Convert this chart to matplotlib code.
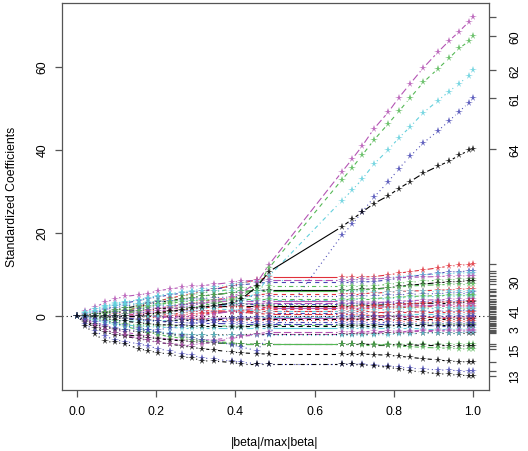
import matplotlib
matplotlib.use('Agg')
import matplotlib.pyplot as plt
from matplotlib.collections import LineCollection
import numpy as np

plt.rcParams['font.family'] = ['Liberation Sans', 'DejaVu Sans']
plt.rcParams['lines.scale_dashes'] = False

# lars breakpoints (|beta|/max|beta|)
steps = [0.0, 0.02, 0.045, 0.07, 0.095, 0.12, 0.155, 0.18, 0.205, 0.235, 0.265,
         0.29, 0.315, 0.345, 0.39, 0.415, 0.455, 0.485,
         0.669, 0.695, 0.72, 0.75, 0.787, 0.813, 0.842, 0.875, 0.912, 0.94, 0.965, 0.99, 1.0]

# the many small coefficients (one row per variable)
small_coef = [
    [0, 0, 0, 0, 0.3, 1.0, 2.0, 2.8, 3.5, 4.2, 4.8, 5.3, 5.8, 6.3, 7.2, 7.8, 8.6, 9.2,
     9.2, 9.3, 9.3, 9.4, 9.8, 10.2, 10.6, 11.0, 11.5, 11.9, 12.1, 12.3, 12.4],
    [0, 0, 0.5, 1.5, 2.3, 3.0, 3.6, 4.1, 4.5, 5.0, 5.4, 5.7, 6.0, 6.3, 7.0, 7.4, 7.8, 8.0,
     8.0, 8.0, 8.1, 8.2, 8.6, 9.0, 9.4, 9.8, 10.2, 10.5, 10.6, 10.7, 10.8],
    [0, 0.8, 1.6, 2.4, 3.0, 3.3, 3.8, 4.2, 4.8, 5.3, 5.7, 6.0, 6.4, 6.8, 7.5, 7.9, 8.3, 8.6,
     8.6, 8.6, 8.7, 8.8, 9.1, 9.4, 9.6, 9.8, 10.0, 10.1, 10.2, 10.3, 10.3],
    [0, 0, 0, 0.5, 1.2, 1.8, 2.5, 3.0, 3.6, 4.1, 4.6, 5.0, 5.4, 5.8, 6.3, 6.6, 6.8, 7.0,
     7.0, 7.1, 7.1, 7.2, 7.5, 7.8, 8.0, 8.3, 8.5, 8.6, 8.7, 8.8, 8.8],
    [0, 1.0, 2.0, 3.2, 4.0, 4.6, 5.0, 5.3, 6.0, 6.4, 6.8, 7.0, 7.2, 7.5, 8.0, 8.3, 8.5, 8.6,
     8.6, 8.6, 8.7, 8.8, 9.0, 9.1, 9.2, 9.3, 9.4, 9.5, 9.5, 9.6, 9.6],
    [0, 0, 0.3, 0.8, 1.3, 1.8, 2.3, 2.8, 3.2, 3.6, 4.0, 4.3, 4.7, 5.0, 5.5, 5.8, 6.0, 6.2,
     6.2, 6.2, 6.3, 6.4, 6.7, 7.0, 7.3, 7.6, 7.9, 8.1, 8.2, 8.4, 8.4],
    [0, 0, 0, 0, 0, 0, 0.4, 1.0, 1.6, 2.1, 2.6, 3.0, 3.4, 3.8, 4.3, 4.6, 5.0, 5.2,
     5.2, 5.3, 5.3, 5.4, 5.6, 5.8, 5.9, 6.0, 6.1, 6.2, 6.3, 6.4, 6.4],
    [0, 0.4, 0.9, 1.4, 1.9, 2.3, 2.7, 3.0, 3.3, 3.5, 3.7, 3.9, 4.1, 4.3, 4.5, 4.6, 4.6, 4.6,
     4.6, 4.6, 4.7, 4.8, 4.9, 5.0, 5.1, 5.2, 5.3, 5.4, 5.5, 5.5, 5.6],
    [0, 0.6, 1.2, 1.8, 2.3, 2.6, 2.9, 3.2, 3.4, 3.5, 3.6, 3.6, 3.7, 3.7, 3.8, 3.8, 3.8, 3.8,
     3.8, 3.8, 3.9, 3.9, 4.1, 4.2, 4.4, 4.5, 4.6, 4.7, 4.7, 4.8, 4.8],
    [0, 0, 0, 0, 0, 0, 0, 0, 0.3, 0.8, 1.2, 1.5, 1.9, 2.2, 2.6, 2.8, 2.9, 3.0,
     3.0, 3.0, 3.1, 3.1, 3.3, 3.4, 3.6, 3.7, 3.8, 3.9, 4.0, 4.0, 4.0],
    [0, 0.2, 0.4, 0.6, 0.8, 1.0, 1.2, 1.4, 1.6, 1.7, 1.8, 1.9, 2.0, 2.1, 2.2, 2.3, 2.3, 2.4,
     2.4, 2.4, 2.5, 2.5, 2.6, 2.7, 2.8, 2.9, 3.0, 3.0, 3.1, 3.2, 3.2],
    [0, 0, 0, 0, 0, 0, 0, 0, 0, 0, 0.2, 0.4, 0.6, 0.8, 1.0, 1.2, 1.4, 1.5,
     1.5, 1.6, 1.6, 1.7, 1.8, 1.9, 2.0, 2.1, 2.2, 2.3, 2.3, 2.4, 2.4],
    [0, 0, 0.4, 0.9, 1.3, 1.7, 2.0, 2.3, 2.5, 2.7, 2.8, 2.9, 3.0, 3.0, 2.9, 2.8, 2.6, 2.5,
     2.5, 2.4, 2.3, 2.2, 2.1, 2.0, 1.9, 1.8, 1.7, 1.7, 1.6, 1.6, 1.6],
    [0, 0, 0, 0, 0, 0.3, 0.6, 0.8, 1.0, 1.1, 1.2, 1.1, 1.0, 0.9, 0.8, 0.7, 0.6, 0.5,
     0.5, 0.5, 0.6, 0.6, 0.7, 0.8, 0.9, 1.0, 1.0, 1.1, 1.1, 1.2, 1.2],
    [0, -0.3, -0.6, -0.9, -1.2, -1.3, -1.4, -1.4, -1.3, -1.2, -1.1, -1.0, -0.9, -0.8, -0.6, -0.5, -0.4, -0.4,
     -0.4, -0.3, -0.2, -0.1, 0.0, 0.1, 0.2, 0.3, 0.3, 0.4, 0.4, 0.4, 0.4],
    [0, 0, 0, 0, 0, 0, 0, -0.2, -0.4, -0.5, -0.6, -0.7, -0.7, -0.7, -0.6, -0.6, -0.5, -0.5,
     -0.5, -0.5, -0.5, -0.4, -0.4, -0.4, -0.4, -0.3, -0.3, -0.3, -0.3, -0.3, -0.3],
    [0, 0, 0, -0.3, -0.6, -0.8, -1.0, -1.1, -1.2, -1.2, -1.1, -1.1, -1.0, -1.0, -0.9, -0.9, -0.8, -0.8,
     -0.8, -0.8, -0.8, -0.8, -0.8, -0.8, -0.8, -0.8, -0.8, -0.8, -0.8, -0.8, -0.8],
    [0, 0, 0, 0, 0, 0, -0.2, -0.4, -0.6, -0.7, -0.8, -0.9, -0.9, -1.0, -1.0, -1.0, -1.0, -1.0,
     -1.0, -1.0, -1.1, -1.1, -1.1, -1.2, -1.2, -1.2, -1.3, -1.3, -1.3, -1.3, -1.3],
    [0, -0.5, -1.0, -1.4, -1.7, -2.0, -2.2, -2.4, -2.5, -2.6, -2.6, -2.6, -2.6, -2.6, -2.5, -2.5, -2.4, -2.4,
     -2.4, -2.4, -2.3, -2.3, -2.2, -2.2, -2.1, -2.1, -2.0, -2.0, -2.0, -2.0, -2.0],
    [0, 0, 0, 0, -0.3, -0.6, -0.9, -1.2, -1.4, -1.6, -1.7, -1.8, -1.9, -1.9, -2.0, -2.0, -2.0, -2.0,
     -2.0, -2.0, -2.1, -2.1, -2.2, -2.3, -2.4, -2.4, -2.5, -2.5, -2.6, -2.6, -2.6],
    [0, -0.6, -1.2, -1.7, -2.0, -2.3, -2.5, -2.7, -2.8, -2.9, -3.0, -3.0, -3.1, -3.1, -3.1, -3.0, -3.0, -3.0,
     -3.0, -3.0, -3.0, -3.1, -3.1, -3.1, -3.1, -3.2, -3.2, -3.2, -3.2, -3.2, -3.1],
    [0, -0.7, -1.6, -2.5, -3.4, -4.0, -4.6, -5.0, -5.4, -5.7, -5.9, -6.0, -6.0, -5.8, -5.4, -5.0, -4.7, -4.5,
     -4.5, -4.4, -4.3, -4.2, -4.1, -4.0, -3.9, -3.8, -3.8, -3.7, -3.7, -3.7, -3.7],
    [0, -1.0, -2.0, -2.8, -3.3, -3.6, -3.9, -4.1, -4.3, -4.5, -4.6, -4.7, -4.7, -4.7, -4.6, -4.6, -4.5, -4.5,
     -4.5, -4.5, -4.4, -4.4, -4.3, -4.3, -4.2, -4.2, -4.1, -4.1, -4.1, -4.1, -4.1],
    [0, 0, 0, -0.5, -1.2, -2.0, -2.8, -3.5, -4.1, -4.6, -5.1, -5.5, -5.9, -6.2, -6.6, -6.8, -6.9, -6.9,
     -6.9, -6.9, -6.9, -6.9, -6.9, -6.9, -6.9, -6.9, -6.9, -6.9, -6.9, -6.9, -6.9],
    [0, -1.2, -2.5, -3.5, -4.2, -4.6, -5.0, -5.3, -5.6, -5.9, -6.1, -6.3, -6.5, -6.6, -6.8, -6.9, -6.9, -6.9,
     -6.9, -6.9, -6.9, -7.0, -7.0, -7.1, -7.1, -7.2, -7.2, -7.3, -7.3, -7.4, -7.4],
    [0, 0, -0.4, -1.0, -1.8, -2.6, -3.4, -4.0, -4.6, -5.1, -5.5, -5.9, -6.2, -6.5, -6.8, -6.9, -6.9, -6.9,
     -6.9, -6.9, -7.0, -7.0, -7.2, -7.4, -7.5, -7.7, -7.8, -7.9, -8.0, -8.1, -8.1],
    [0, -1.5, -3.0, -4.0, -4.6, -5.0, -5.6, -6.0, -6.5, -6.9, -7.3, -7.7, -8.0, -8.3, -8.8, -9.0, -9.2, -9.3,
     -9.3, -9.3, -9.3, -9.4, -9.6, -9.8, -10.1, -10.4, -10.7, -11.0, -11.1, -11.2, -11.3],
    [0, -2.0, -3.8, -5.0, -5.8, -6.3, -6.8, -7.4, -8.0, -8.6, -9.2, -9.6, -10.2, -10.5, -11.0, -11.3, -11.6, -11.7,
     -11.7, -11.7, -11.8, -11.9, -12.2, -12.5, -12.7, -12.9, -13.1, -13.2, -13.3, -13.3, -13.3],
    [0, -2.5, -4.5, -6.2, -6.5, -6.8, -8.0, -8.5, -9.0, -9.3, -10.0, -10.2, -10.9, -11.0, -11.3, -11.7, -11.7, -11.7,
     -11.7, -11.8, -11.9, -12.1, -12.5, -12.9, -13.3, -13.7, -14.0, -14.2, -14.4, -14.5, -14.5],
    [0, 0, 0, 0, 0, 0, 0, 0, 0, 0, 0, 0, 0.3, 0.6, 0.9, 1.0, 1.0, 1.0,
     1.0, 1.0, 1.0, 0.9, 0.9, 0.9, 0.9, 0.8, 0.8, 0.8, 0.8, 0.8, 0.8],
    [0, 0, 0, 0, 0, 0.4, 0.9, 1.4, 1.8, 2.2, 2.6, 2.9, 3.1, 3.3, 3.5, 3.5, 3.5, 3.5,
     3.5, 3.4, 3.3, 3.2, 3.0, 2.8, 2.6, 2.4, 2.3, 2.2, 2.1, 2.0, 2.0],
    [0, 0, 0, 0.3, 0.8, 1.3, 1.8, 2.3, 2.7, 3.0, 3.3, 3.5, 3.7, 3.8, 3.9, 4.0, 4.0, 4.0,
     4.0, 4.0, 4.1, 4.1, 4.3, 4.4, 4.6, 4.7, 4.8, 4.9, 5.0, 5.0, 5.0],
    [0, 0.5, 1.2, 2.0, 2.7, 3.2, 3.8, 4.3, 4.8, 5.1, 5.4, 5.6, 5.8, 5.9, 6.0, 6.0, 6.0, 5.9,
     5.9, 5.8, 5.8, 5.7, 5.7, 5.8, 5.8, 5.9, 5.9, 6.0, 6.0, 6.0, 6.0],
    [0, 0, 0, 0, 0.5, 1.0, 1.5, 1.9, 2.2, 2.4, 2.6, 2.7, 2.8, 2.8, 2.8, 2.8, 2.8, 2.8,
     2.8, 2.8, 2.9, 2.9, 3.0, 3.1, 3.2, 3.3, 3.4, 3.5, 3.5, 3.6, 3.6],
    [0, 0, 0, 0, 0, 0, 0, 0, 0, 0.3, 0.6, 0.9, 1.1, 1.2, 1.0, 0.8, 0.5, 0.3,
     0.3, 0.2, 0.1, 0.0, -0.1, -0.2, -0.3, -0.4, -0.5, -0.5, -0.6, -0.6, -0.6],
    [0, 0, 0, 0, 0, 0, 0, 0, 0, 0, 0, 0, 0, 0.4, 1.0, 1.4, 1.7, 1.8,
     1.8, 1.9, 1.9, 2.0, 2.1, 2.2, 2.3, 2.4, 2.5, 2.6, 2.7, 2.8, 2.8],
    [0, 0, -0.3, -0.7, -1.1, -1.4, -1.7, -2.0, -2.2, -2.3, -2.4, -2.5, -2.6, -2.6, -2.7, -2.7, -2.6, -2.6,
     -2.6, -2.6, -2.5, -2.5, -2.5, -2.4, -2.4, -2.4, -2.3, -2.3, -2.3, -2.3, -2.3],
    [0, -0.4, -1.0, -1.6, -2.2, -2.7, -3.2, -3.6, -3.9, -4.2, -4.4, -4.6, -4.7, -4.8, -4.8, -4.8, -4.8, -4.8,
     -4.8, -4.8, -4.7, -4.7, -4.6, -4.5, -4.4, -4.3, -4.2, -4.1, -4.1, -4.0, -4.0],
    [0, 0, 0, 0, 0, 0, 0, 0, -0.3, -0.6, -0.9, -1.1, -1.3, -1.4, -1.5, -1.5, -1.5, -1.5,
     -1.5, -1.5, -1.6, -1.6, -1.6, -1.7, -1.7, -1.7, -1.8, -1.8, -1.8, -1.8, -1.8],
    [0, -1.0, -2.2, -3.4, -4.2, -4.8, -5.5, -6.0, -6.5, -6.8, -7.0, -7.0, -6.8, -6.4, -5.6, -5.0, -4.4, -4.0,
     -4.0, -3.9, -3.9, -3.8, -3.8, -3.7, -3.7, -3.6, -3.6, -3.5, -3.5, -3.5, -3.5],
    [0, 0, 0, 0, 0, 0.4, 1.2, 2.0, 2.7, 3.3, 3.9, 4.3, 4.7, 5.0, 5.5, 5.8, 6.0, 6.0,
     6.0, 6.1, 6.2, 6.3, 6.6, 6.9, 7.1, 7.3, 7.4, 7.5, 7.6, 7.6, 7.6],
    [0, 0, 0, 0, 0, 0, 0, 0.3, 0.7, 1.1, 1.4, 1.7, 1.9, 2.0, 2.1, 2.0, 2.0, 2.0,
     2.0, 2.1, 2.2, 2.3, 2.5, 2.7, 2.9, 3.0, 3.2, 3.3, 3.3, 3.4, 3.4],
    [0, -0.8, -1.6, -2.4, -3.0, -3.4, -3.6, -3.6, -3.4, -3.0, -2.5, -2.0, -1.5, -1.0, -0.6, -0.4, -0.3, -0.2,
     -0.2, -0.2, -0.2, -0.2, -0.2, -0.2, -0.2, -0.2, -0.2, -0.2, -0.2, -0.2, -0.2],
    [0, 0.7, 1.5, 2.2, 2.6, 2.8, 2.9, 2.8, 2.6, 2.4, 2.2, 2.0, 1.8, 1.6, 1.4, 1.3, 1.2, 1.2,
     1.2, 1.2, 1.3, 1.3, 1.4, 1.5, 1.6, 1.6, 1.7, 1.7, 1.8, 1.8, 1.8],
]
small_names = ['', '', '', '', '', '30', '', '', '', '', '', '', '', '41', '',
               '', '', '', '', '', '3', '', '', '', '', '15', '', '', '13', '', '',
               '', '', '', '', '', '', '', '', '', '', '', '', '']

# the five large coefficients that break away after 0.49
big_coef = [
    [0, 0, 0, 0, 0, 0, 0.2, 0.6, 1.0, 1.5, 2.0, 2.4, 2.9, 3.4, 4.5, 5.5, 8.0, 12.3,
     34.6, 37.7, 40.8, 45.0, 49.1, 52.5, 55.9, 59.7, 63.5, 66.2, 68.4, 70.8, 71.9],
    [0, 0, 0, 0, 0, 0, 0, 0, 0.4, 0.9, 1.4, 1.9, 2.4, 2.9, 3.8, 4.8, 7.0, 11.5,
     32.7, 35.6, 38.6, 42.3, 46.3, 49.2, 52.5, 56.2, 59.5, 62.0, 64.4, 66.1, 67.3],
    [0, 0, 0, 0, 0, 0, 0, 0, 0, 0.3, 0.7, 1.1, 1.6, 2.0, 2.8, 3.6, 5.5, 9.5,
     27.7, 30.2, 32.8, 36.5, 40.0, 42.8, 45.5, 48.9, 51.8, 54.0, 55.9, 57.8, 59.1],
    [0, -0.3, -0.8, -1.3, -1.9, -2.4, -3.0, -3.5, -4.0, -4.5, -5.0, -5.4, -5.8, -6.2, -7.0, -7.6, -8.5, -4.5,
     19.3, 22.0, 24.9, 28.5, 32.3, 35.4, 38.4, 41.6, 44.5, 46.9, 49.1, 51.3, 52.5],
    [0, 0, 0, 0, 0, 0, 0, 0.3, 0.7, 1.0, 1.4, 1.7, 2.0, 2.4, 3.0, 4.0, 7.0, 10.6,
     21.4, 23.2, 24.9, 27.0, 28.9, 30.6, 32.3, 34.3, 36.0, 37.2, 38.6, 39.8, 40.2],
]
big_names = ['', '60', '62', '61', '64']

# R-like palette and line types
BLACK, RED, GREEN, BLUE, CYAN, MAGENTA = '#000000', '#e0303a', '#55b855', '#4646b4', '#62cfdc', '#b455b4'
small_cols = [RED, BLUE, CYAN, GREEN, MAGENTA, BLACK, RED, BLUE, CYAN, MAGENTA, BLACK, RED, GREEN,
              BLUE, CYAN, MAGENTA, BLACK, RED, GREEN, BLUE, CYAN, MAGENTA, BLACK, GREEN, BLACK,
              GREEN, BLACK, BLUE, BLACK, RED, MAGENTA,
              GREEN, CYAN, BLUE, RED, MAGENTA, BLACK, CYAN, BLUE, MAGENTA, GREEN, RED, BLUE, CYAN]
big_cols = [MAGENTA, GREEN, CYAN, BLUE, BLACK]
LTY = ['solid', (0, (3, 3)), (0, (0.75, 2.25)), (0, (0.75, 2.25, 3, 2.25)), (0, (5.25, 2.25))]
big_lty = [LTY[4], LTY[1], LTY[3], LTY[2], LTY[0]]

GRAY = '#555555'
fig = plt.figure(figsize=(5.28, 4.52), dpi=100)
ax = fig.add_axes([61.5 / 528, 61 / 452, 427 / 528, 387 / 452])
allv = np.array(small_coef + big_coef)
lo, hi = allv.min(), allv.max()
pad = (hi - lo) * 0.04
ax.set_xlim(-0.04, 1.04)
ax.set_ylim(lo - pad, hi + pad)


def draw_path(xs, ys, color, dash, gap=4.4):
    # type="b": line segments stop short of the plotting symbols
    pts = ax.transData.transform(np.column_stack([xs, ys]))
    segs = []
    for p, q in zip(pts[:-1], pts[1:]):
        d = q - p
        L = np.hypot(d[0], d[1])
        if L <= 2 * gap:
            continue
        u = d / L
        segs.append(ax.transData.inverted().transform(np.array([p + u * gap, q - u * gap])))
    ax.add_collection(LineCollection(segs, colors=color, linestyles=[dash], linewidths=0.8))
    ax.plot(xs, ys, ls='none', marker='*', ms=5.5, color=color, mew=0, alpha=0.85)


ax.axhline(0, color='black', lw=0.8, ls=(0, (0.75, 2.25)), zorder=1)
for i, row in enumerate(small_coef):
    draw_path(steps, row, small_cols[i], LTY[i % 5])
for i, row in enumerate(big_coef):
    draw_path(steps, row, big_cols[i], big_lty[i])

for s in ax.spines.values():
    s.set_color(GRAY)
    s.set_linewidth(0.9)
ax.set_xticks([0.0, 0.2, 0.4, 0.6, 0.8, 1.0])
ax.set_xticklabels(['0.0', '0.2', '0.4', '0.6', '0.8', '1.0'])
ax.set_yticks([0, 20, 40, 60])
ax.set_yticklabels(['0', '20', '40', '60'], rotation=90, va='center')
ax.tick_params(axis='both', length=5, width=0.9, color=GRAY, labelsize=8.8, pad=4.5)
ax.tick_params(axis='x', pad=6)

ax2 = ax.twinx()
ax2.set_ylim(ax.get_ylim())
finals = [r[-1] for r in small_coef + big_coef]
ax2.set_yticks(finals)
ax2.set_yticklabels(small_names + big_names, rotation=90, va='center')
ax2.tick_params(axis='y', length=5, width=0.9, color=GRAY, labelsize=8.8, pad=10)
for s in ax2.spines.values():
    s.set_visible(False)

fig.text(12 / 528, 1 - 197 / 452, 'Standardized Coefficients', rotation=90,
         ha='center', va='center', fontsize=8.8)
fig.text(275 / 528, 1 - 443 / 452, '|beta|/max|beta|', ha='center', va='center', fontsize=8.8)

fig.savefig('out.png', dpi=100)
